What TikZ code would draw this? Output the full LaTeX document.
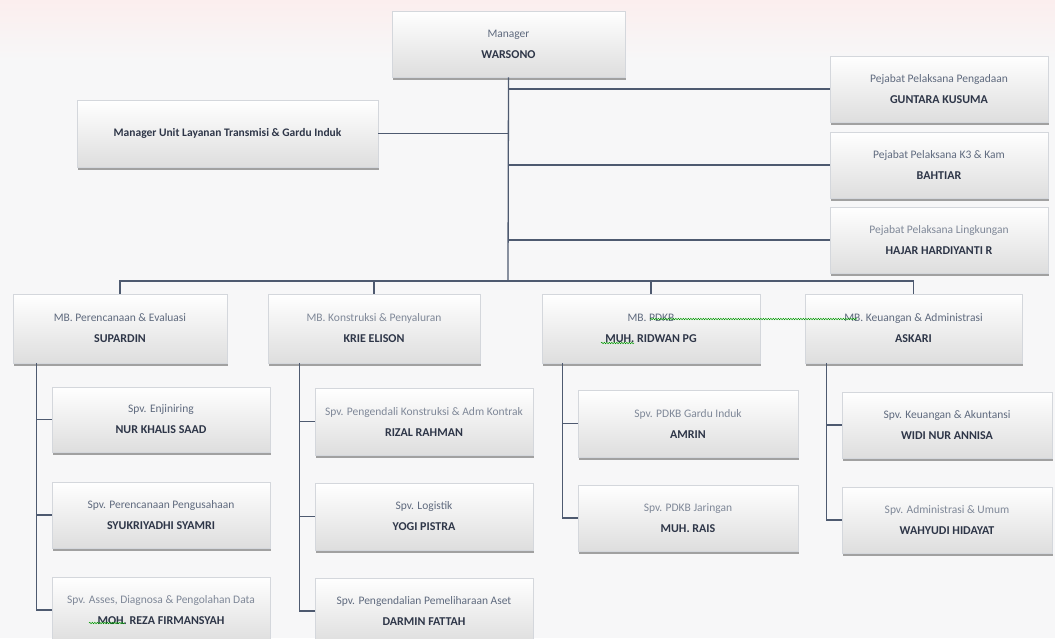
\documentclass[tikz,border=0pt]{standalone}
\usepackage{fontspec}
\setmainfont{Carlito}
\usetikzlibrary{shadows,calc,decorations.pathmorphing}
\definecolor{lnc}{HTML}{4E5A70}
\definecolor{ttl}{HTML}{5F6A7E}
\definecolor{nmc}{HTML}{2E3648}
\definecolor{brd}{HTML}{D4D7DC}
\definecolor{bgc}{HTML}{F7F7F8}
\definecolor{pinkband}{HTML}{FBEEEE}
\newcommand\pname[1]{\textcolor{nmc}{\fontsize{12}{21}\selectfont\textbf{#1}}}
\tikzset{
 box/.style={draw=brd, line width=0.5pt, top color=white, bottom color=black!13,
   drop shadow={shadow xshift=1pt, shadow yshift=-2.5pt, fill=black!45, opacity=0.8},
   align=center, inner sep=0pt, font=\fontsize{11.5}{21}\selectfont, text=ttl},
 light/.style={text=ttl!80},
 conn/.style={draw=lnc, line width=1.3pt},
 squig/.style={draw=green!60!black, line width=0.5pt, decorate, decoration={snake, amplitude=0.7pt, segment length=2.5pt}},
}
\begin{document}
\begin{tikzpicture}[x=1pt,y=-1pt]
\useasboundingbox (0,0) rectangle (1055,638);
\fill[bgc] (0,0) rectangle (1055,638);
\shade[top color=pinkband, bottom color=bgc] (0,0) rectangle (1055,60);
% top level
\node[box, minimum width=233, minimum height=66] (mgr) at (508.5,44) {Manager\\\pname{WARSONO}};
\node[box, minimum width=218, minimum height=66] (peng) at (939,89) {Pejabat Pelaksana Pengadaan\\\pname{GUNTARA KUSUMA}};
\node[box, minimum width=218, minimum height=66] (k3) at (939,165) {Pejabat Pelaksana K3 \& Kam\\\pname{BAHTIAR}};
\node[box, light, minimum width=218, minimum height=66] (ling) at (939,240) {Pejabat  Pelaksana Lingkungan\\\pname{HAJAR HARDIYANTI R}};
\node[box, minimum width=301, minimum height=67] (multi) at (227.5,133.5) {\textcolor{nmc}{\fontsize{11.5}{13}\selectfont\textbf{Manager  Unit Layanan  Transmisi  \& Gardu Induk}}};
% MB row
\node[box, minimum width=214, minimum height=69] (mb1) at (120,328.5) {MB. Perencanaan \& Evaluasi\\\pname{SUPARDIN}};
\node[box, light, minimum width=212, minimum height=69] (mb2) at (374,328.5) {MB. Konstruksi \& Penyaluran\\\pname{KRIE ELISON}};
\node[box, minimum width=218, minimum height=69] (mb3) at (651,328.5) {MB. PDKB\\\pname{MUH. RIDWAN PG}};
\node[box, minimum width=217, minimum height=69] (mb4) at (913.5,328.5) {MB. Keuangan  \& Administrasi\\\pname{ASKARI}};
% column 1
\node[box, minimum width=218, minimum height=65] (s11) at (161,419.5) {Spv. Enjiniring\\\pname{NUR KHALIS SAAD}};
\node[box, minimum width=218, minimum height=66] (s12) at (161,515) {Spv. Perencanaan Pengusahaan\\\pname{SYUKRIYADHI SYAMRI}};
\node[box, light, minimum width=218, minimum height=66] (s13) at (161,610) {Spv. Asses, Diagnosa \& Pengolahan  Data\\\pname{MOH. REZA FIRMANSYAH}};
% column 2
\node[box, light, minimum width=218, minimum height=67] (s21) at (424,421.5) {Spv. Pengendali  Konstruksi \& Adm Kontrak\\\pname{RIZAL RAHMAN}};
\node[box, minimum width=218, minimum height=67] (s22) at (424,516.5) {Spv. Logistik\\\pname{YOGI PISTRA}};
\node[box, minimum width=218, minimum height=66] (s23) at (424,611) {Spv. Pengendalian Pemeliharaan Aset\\\pname{DARMIN FATTAH}};
% column 3
\node[box, light, minimum width=220, minimum height=67] (s31) at (688,423.5) {Spv. PDKB   Gardu  Induk\\\pname{AMRIN}};
\node[box, light, minimum width=220, minimum height=66] (s32) at (688,518) {Spv. PDKB  Jaringan\\\pname{MUH. RAIS}};
% column 4
\node[box, minimum width=210, minimum height=66] (s41) at (947,425) {Spv. Keuangan \& Akuntansi\\\pname{WIDI NUR ANNISA}};
\node[box, light, minimum width=210, minimum height=66] (s42) at (947,520) {Spv. Administrasi  \& Umum\\\pname{WAHYUDI  HIDAYAT}};
% connectors top
\coordinate (trunk) at (508,281);
\draw[conn] (mgr.south) -- (trunk);
\draw[conn] (mgr.south |- peng.west) -- (peng.west);
\draw[conn] (mgr.south |- k3.west) -- (k3.west);
\draw[conn] (mgr.south |- ling.west) -- (ling.west);
\draw[conn] (multi.east) -- (mgr.south |- multi.east);
\draw[conn] (mb1.north) -- (mb1.north |- trunk) -| (mb4.north);
\draw[conn] (mb2.north) -- (mb2.north |- trunk);
\draw[conn] (mb3.north) -- (mb3.north |- trunk);
% column connectors
\coordinate (c1) at ($(mb1.south west)+(24,0)$);
\coordinate (c2) at ($(mb2.south west)+(32,0)$);
\coordinate (c3) at ($(mb3.south west)+(21,0)$);
\coordinate (c4) at ($(mb4.south west)+(22,0)$);
\draw[conn] (c1) |- (s13.west);
\draw[conn] (c1) |- (s11.west);
\draw[conn] (c1) |- (s12.west);
\draw[conn] (c2) |- (s23.west);
\draw[conn] (c2) |- (s21.west);
\draw[conn] (c2) |- (s22.west);
\draw[conn] (c3) |- (s32.west);
\draw[conn] (c3) |- (s31.west);
\draw[conn] (c4) |- (s42.west);
\draw[conn] (c4) |- (s41.west);
% spell-check squiggles
\draw[squig] (650,319) -- (857,319);
\draw[squig] (601,343) -- (634,343);
\draw[squig] (89,623) -- (125,623);
\end{tikzpicture}
\end{document}
